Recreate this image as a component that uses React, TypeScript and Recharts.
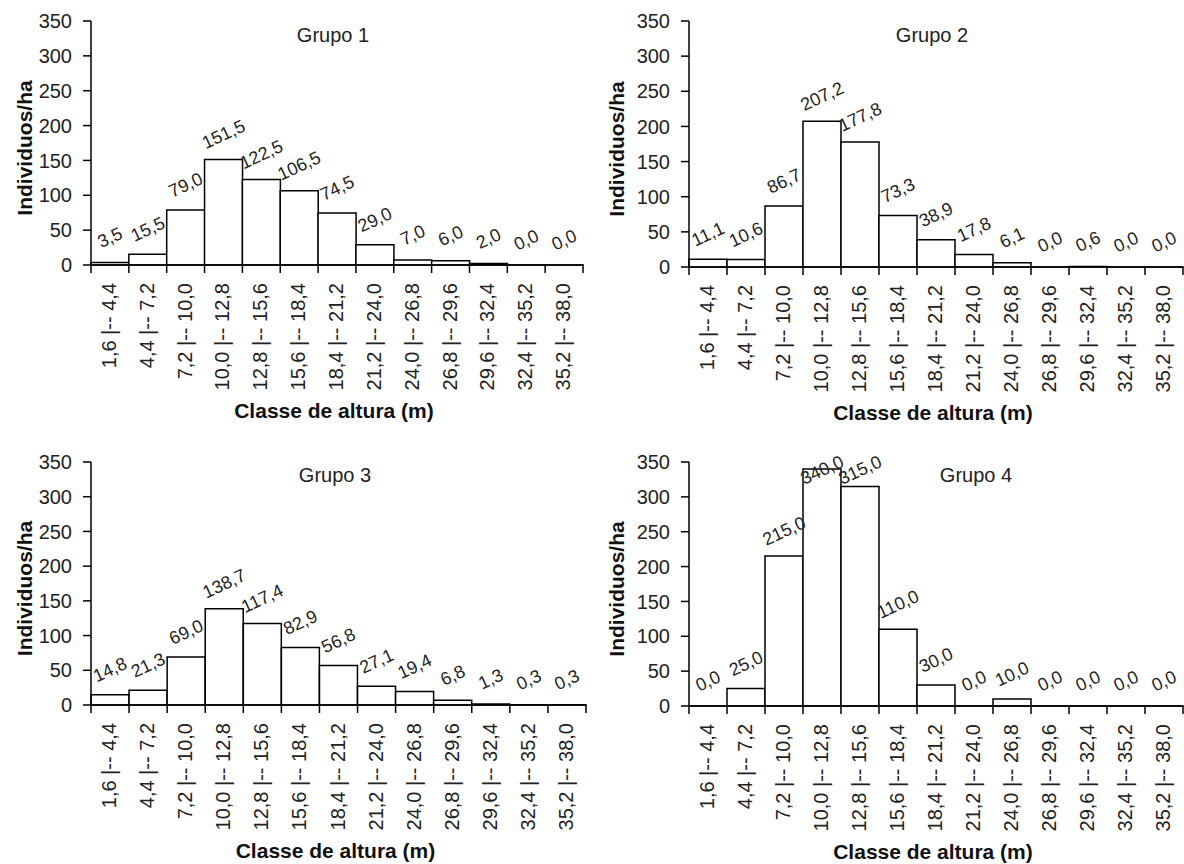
import { BarChart, Bar, XAxis, YAxis, LabelList } from 'recharts'

const classes = [
  '1,6 |-- 4,4', '4,4 |-- 7,2', '7,2 |-- 10,0', '10,0 |-- 12,8', '12,8 |-- 15,6',
  '15,6 |-- 18,4', '18,4 |-- 21,2', '21,2 |-- 24,0', '24,0 |-- 26,8', '26,8 |-- 29,6',
  '29,6 |-- 32,4', '32,4 |-- 35,2', '35,2 |-- 38,0',
]

const grupo1 = [3.5, 15.5, 79.0, 151.5, 122.5, 106.5, 74.5, 29.0, 7.0, 6.0, 2.0, 0.0, 0.0]
const grupo2 = [11.1, 10.6, 86.7, 207.2, 177.8, 73.3, 38.9, 17.8, 6.1, 0.0, 0.6, 0.0, 0.0]
const grupo3 = [14.8, 21.3, 69.0, 138.7, 117.4, 82.9, 56.8, 27.1, 19.4, 6.8, 1.3, 0.3, 0.3]
const grupo4 = [0.0, 25.0, 215.0, 340.0, 315.0, 110.0, 30.0, 0.0, 10.0, 0.0, 0.0, 0.0, 0.0]

const yTicks = [0, 50, 100, 150, 200, 250, 300, 350]

const FONT = '"Liberation Sans", Arial, sans-serif'
const INK = '#222'
const W = 592
const H = 432

type Box = { left: number; right: number; top: number; bottom: number }

const panels = [
  { title: 'Grupo 1', values: grupo1, box: { left: 91, right: 583, top: 21, bottom: 265 }, at: [0, 0], titleX: 333, titleY: 35 },
  { title: 'Grupo 2', values: grupo2, box: { left: 97, right: 591, top: 21, bottom: 267 }, at: [592, 0], titleX: 340, titleY: 35 },
  { title: 'Grupo 3', values: grupo3, box: { left: 91, right: 586, top: 30, bottom: 273 }, at: [0, 432], titleX: 335, titleY: 43 },
  { title: 'Grupo 4', values: grupo4, box: { left: 97, right: 591, top: 30, bottom: 274 }, at: [592, 432], titleX: 384, titleY: 43 },
]

const fmt = (v: number) => v.toFixed(1).replace('.', ',')

function Panel({ title, values, box, titleX, titleY }: { title: string; values: number[]; box: Box; titleX: number; titleY: number }) {
  const data = classes.map((c, i) => ({ classe: c, valor: values[i] }))
  const band = (box.right - box.left) / classes.length

  const xTick = (p: any) => {
    const { x, y, payload, index } = p
    return (
      <g>
        <line x1={x - band / 2} y1={y} x2={x - band / 2} y2={y + 8} stroke="#000" strokeWidth={1.5} />
        {index === classes.length - 1 && (
          <line x1={x + band / 2} y1={y} x2={x + band / 2} y2={y + 8} stroke="#000" strokeWidth={1.5} />
        )}
        <text
          transform={`translate(${x - 1},${y + 18}) rotate(-90)`}
          textAnchor="end"
          dominantBaseline="central"
          fontSize={20}
          fontFamily={FONT}
          fill={INK}
        >
          {payload.value}
        </text>
      </g>
    )
  }

  // rotated value above each bar, pushed down when it would leave the plot
  const valueLabel = (p: any) => {
    const { x, y, width, value } = p
    const cx = Number(x) + Number(width) / 2
    const cy = Math.max(Number(y) - 25, box.top + 8)
    return (
      <text
        transform={`translate(${cx},${cy}) rotate(-25)`}
        textAnchor="middle"
        dominantBaseline="central"
        fontSize={18}
        fontFamily={FONT}
        fill={INK}
      >
        {fmt(Number(value))}
      </text>
    )
  }

  return (
    <div style={{ position: 'relative', width: W, height: H }}>
      <BarChart
        width={W}
        height={H}
        data={data}
        barCategoryGap={0}
        margin={{ top: box.top, right: W - box.right, left: 0, bottom: 0 }}
      >
        <XAxis
          dataKey="classe"
          interval={0}
          height={H - box.bottom}
          tickSize={0}
          tickMargin={0}
          tickLine={false}
          axisLine={{ stroke: '#000', strokeWidth: 1.5 }}
          tick={xTick}
          label={() => (
            <text
              x={(box.left + box.right) / 2 - 3}
              y={box.bottom + 145}
              textAnchor="middle"
              dominantBaseline="central"
              fontSize={21}
              fontWeight="bold"
              fontFamily={FONT}
              fill="#111"
            >
              Classe de altura (m)
            </text>
          )}
        />
        <YAxis
          width={box.left}
          domain={[0, 350]}
          ticks={yTicks}
          interval={0}
          tickSize={8}
          tickMargin={11}
          axisLine={{ stroke: '#000', strokeWidth: 1.5 }}
          tickLine={{ stroke: '#000', strokeWidth: 1.5 }}
          tick={{ fontSize: 20, fontFamily: FONT, fill: INK }}
          label={() => (
            <text
              transform={`translate(24,${(box.top + box.bottom) / 2 + 5}) rotate(-90)`}
              textAnchor="middle"
              dominantBaseline="central"
              fontSize={21}
              fontWeight="bold"
              fontFamily={FONT}
              fill="#111"
            >
              Individuos/ha
            </text>
          )}
        />
        <Bar dataKey="valor" fill="#fff" stroke="#000" strokeWidth={1.5} minPointSize={0.1} isAnimationActive={false}>
          <LabelList dataKey="valor" content={valueLabel} />
        </Bar>
      </BarChart>
      <div
        style={{
          position: 'absolute',
          left: titleX,
          top: titleY,
          transform: 'translate(-50%, -50%)',
          fontFamily: FONT,
          fontSize: 20,
          color: INK,
          whiteSpace: 'nowrap',
        }}
      >
        {title}
      </div>
    </div>
  )
}

export default function App() {
  return (
    <div style={{ position: 'absolute', left: 0, top: 0, width: 1184, height: 864, background: '#fff' }}>
      {panels.map((p) => (
        <div key={p.title} style={{ position: 'absolute', left: p.at[0], top: p.at[1] }}>
          <Panel title={p.title} values={p.values} box={p.box} titleX={p.titleX} titleY={p.titleY} />
        </div>
      ))}
    </div>
  )
}
